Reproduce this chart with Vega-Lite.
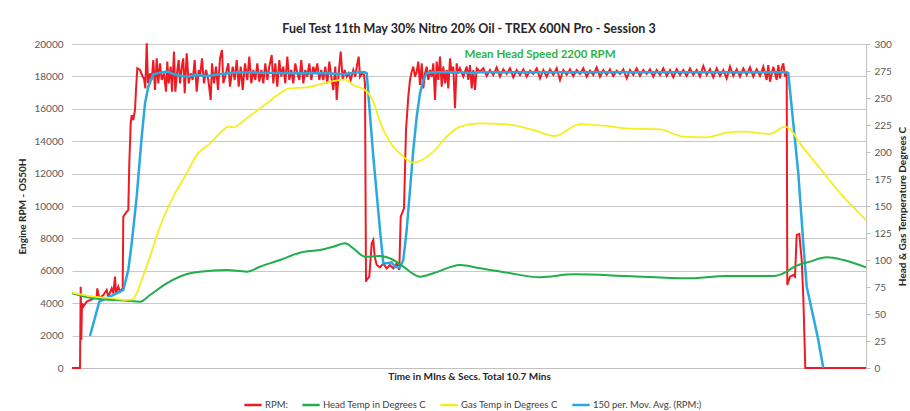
{
"$schema":"https://vega.github.io/schema/vega-lite/v6.json",
"width":794,"height":324,
"autosize":{"type":"none"},
"padding":{"left":72,"top":44,"right":44,"bottom":43},
"background":"white",
"config":{"font":"Lato","view":{"stroke":null}},
"title":{"text":"Fuel Test 11th May 30% Nitro 20% Oil - TREX 600N Pro - Session 3","fontSize":12.5,"fontWeight":"bold","color":"#262626","anchor":"middle","offset":4},
"datasets":{
"rpm":[{"s":0,"v":0},{"s":8,"v":0},{"s":8.7,"v":5021},{"s":9.3,"v":1728},{"s":10,"v":3992},{"s":11.3,"v":3786},{"s":14.7,"v":4095},{"s":19.7,"v":4239},{"s":24.7,"v":4403},{"s":25.3,"v":4918},{"s":27.3,"v":4300},{"s":31.3,"v":4506},{"s":34.7,"v":4815},{"s":36.3,"v":4403},{"s":39.7,"v":4918},{"s":41.3,"v":4610},{"s":43,"v":5638},{"s":44,"v":4610},{"s":46.3,"v":5021},{"s":48,"v":4710},{"s":50.7,"v":4918},{"s":51.3,"v":9342},{"s":54.7,"v":9651},{"s":56.3,"v":9754},{"s":57.3,"v":12634},{"s":58.7,"v":15103},{"s":59.7,"v":15617},{"s":61.3,"v":15309},{"s":63,"v":15926},{"s":64,"v":17161},{"s":65.3,"v":18498},{"s":68,"v":18395},{"s":70.7,"v":17984},{"s":72,"v":17881},{"s":73.3,"v":17264},{"s":74.7,"v":20041},{"s":76,"v":17572},{"s":78,"v":18190},{"s":79.7,"v":17778},{"s":81.3,"v":19012},{"s":83,"v":17161},{"s":84.7,"v":19115},{"s":86.3,"v":17572},{"s":88,"v":18807},{"s":89.7,"v":17778},{"s":92,"v":18190},{"s":94,"v":17058},{"s":95.3,"v":18910},{"s":96.7,"v":17572},{"s":98.7,"v":18601},{"s":100,"v":17058},{"s":102,"v":19527},{"s":103.3,"v":17058},{"s":105.3,"v":18395},{"s":106.7,"v":19012},{"s":108,"v":17572},{"s":110,"v":18704},{"s":111.3,"v":19115},{"s":112.7,"v":16955},{"s":114.7,"v":19424},{"s":116.7,"v":17572},{"s":118.7,"v":18190},{"s":120.7,"v":17778},{"s":122.7,"v":19012},{"s":124.7,"v":17058},{"s":126.7,"v":18395},{"s":128,"v":17984},{"s":130,"v":19115},{"s":132,"v":17572},{"s":134,"v":18395},{"s":136.3,"v":17778},{"s":138.7,"v":16544},{"s":140,"v":18807},{"s":142,"v":17572},{"s":144,"v":18601},{"s":146,"v":17161},{"s":148,"v":19115},{"s":150,"v":19630},{"s":151.3,"v":17572},{"s":154,"v":18190},{"s":156.3,"v":18807},{"s":158,"v":17366},{"s":160.7,"v":18601},{"s":162.7,"v":17778},{"s":164.7,"v":19012},{"s":166.7,"v":17366},{"s":168.7,"v":18601},{"s":170.7,"v":17161},{"s":173,"v":18807},{"s":175.3,"v":17778},{"s":177.3,"v":19218},{"s":179.3,"v":17572},{"s":181.3,"v":18395},{"s":183.3,"v":17778},{"s":185.3,"v":18807},{"s":187.3,"v":17675},{"s":189.3,"v":18395},{"s":191.3,"v":17572},{"s":193.3,"v":18807},{"s":195.3,"v":17778},{"s":197.3,"v":18601},{"s":199.7,"v":19321},{"s":201.3,"v":17572},{"s":203.3,"v":18807},{"s":205.3,"v":17366},{"s":207.3,"v":19012},{"s":209.3,"v":17984},{"s":211.3,"v":18601},{"s":213.3,"v":17572},{"s":215.3,"v":19218},{"s":217.3,"v":17778},{"s":219.3,"v":18395},{"s":221.3,"v":17572},{"s":223.3,"v":18807},{"s":225.3,"v":18190},{"s":227.3,"v":17778},{"s":229.3,"v":19012},{"s":231.3,"v":17572},{"s":233.3,"v":18395},{"s":235.3,"v":17984},{"s":237.3,"v":18807},{"s":239.3,"v":17778},{"s":241.3,"v":18601},{"s":243.3,"v":18190},{"s":245.3,"v":18807},{"s":247.3,"v":17778},{"s":249.3,"v":18395},{"s":251.3,"v":17778},{"s":253.3,"v":18601},{"s":255.3,"v":17572},{"s":257.3,"v":18910},{"s":259.3,"v":17984},{"s":261.3,"v":17161},{"s":263.3,"v":18601},{"s":264.7,"v":16544},{"s":266.7,"v":18190},{"s":268.7,"v":19527},{"s":270.7,"v":17778},{"s":272.7,"v":18395},{"s":274.7,"v":17984},{"s":276.7,"v":18190},{"s":278.7,"v":17778},{"s":281.3,"v":18395},{"s":283.3,"v":17984},{"s":285.3,"v":18807},{"s":286.7,"v":19218},{"s":288,"v":17984},{"s":290,"v":18190},{"s":292,"v":18087},{"s":293,"v":17500},{"s":294,"v":5329},{"s":294.7,"v":5432},{"s":297.3,"v":5638},{"s":299.7,"v":7696},{"s":301.3,"v":7901},{"s":302.7,"v":6872},{"s":304.7,"v":6358},{"s":308,"v":6214},{"s":311.3,"v":6461},{"s":314.7,"v":6152},{"s":318,"v":6358},{"s":321.3,"v":6152},{"s":324.7,"v":6461},{"s":327.3,"v":6050},{"s":328.7,"v":9342},{"s":330.7,"v":9651},{"s":332,"v":9857},{"s":334,"v":14692},{"s":336.3,"v":16749},{"s":338,"v":17778},{"s":339.7,"v":18293},{"s":341.3,"v":18601},{"s":343,"v":17984},{"s":344.7,"v":18293},{"s":346.3,"v":18910},{"s":348,"v":17469},{"s":349.7,"v":18807},{"s":351.3,"v":17264},{"s":353,"v":18190},{"s":354.7,"v":18601},{"s":356.3,"v":17778},{"s":358,"v":18395},{"s":359.7,"v":17984},{"s":361.3,"v":18807},{"s":363,"v":16544},{"s":364.7,"v":18910},{"s":366.3,"v":17778},{"s":368,"v":19218},{"s":369.7,"v":17366},{"s":371.3,"v":18601},{"s":373,"v":17572},{"s":374.7,"v":18395},{"s":376.3,"v":17264},{"s":378,"v":19115},{"s":379.7,"v":18190},{"s":381.3,"v":18601},{"s":383,"v":16029},{"s":384.7,"v":18807},{"s":386.3,"v":18190},{"s":388,"v":18498},{"s":391.3,"v":17984},{"s":394.7,"v":18601},{"s":396.3,"v":17778},{"s":398,"v":18704},{"s":399.7,"v":17264},{"s":401.3,"v":18395},{"s":403,"v":17161},{"s":404.7,"v":18498},{"s":408,"v":18293},{"s":411.3,"v":18498},{"s":414.7,"v":18025},{"s":418,"v":18395},{"s":421.3,"v":18087},{"s":424.7,"v":18560},{"s":428,"v":17984},{"s":431.3,"v":18436},{"s":434.7,"v":18149},{"s":438,"v":18498},{"s":441.3,"v":17943},{"s":444.7,"v":18395},{"s":448,"v":18087},{"s":451.3,"v":18436},{"s":454.7,"v":17984},{"s":458,"v":18354},{"s":461.3,"v":18149},{"s":464.7,"v":18498},{"s":468,"v":17881},{"s":471.3,"v":18395},{"s":474.7,"v":17984},{"s":478,"v":18436},{"s":481.3,"v":18087},{"s":484.7,"v":18498},{"s":488,"v":17778},{"s":491.3,"v":18395},{"s":494.7,"v":18087},{"s":498,"v":18436},{"s":501.3,"v":18025},{"s":504.7,"v":18395},{"s":508,"v":18149},{"s":511.3,"v":18498},{"s":514.7,"v":17984},{"s":518,"v":18354},{"s":521.3,"v":18087},{"s":524.7,"v":18560},{"s":528,"v":17984},{"s":531.3,"v":18395},{"s":534.7,"v":18087},{"s":538,"v":18436},{"s":541.3,"v":18025},{"s":544.7,"v":18354},{"s":548,"v":18149},{"s":551.3,"v":18436},{"s":554.7,"v":17881},{"s":558,"v":18395},{"s":561.3,"v":18087},{"s":564.7,"v":18498},{"s":568,"v":18025},{"s":571.3,"v":18395},{"s":574.7,"v":18149},{"s":578,"v":18436},{"s":581.3,"v":17984},{"s":584.7,"v":18395},{"s":588,"v":18087},{"s":591.3,"v":18498},{"s":594.7,"v":18025},{"s":598,"v":18395},{"s":601.3,"v":17943},{"s":604.7,"v":18436},{"s":608,"v":18087},{"s":611.3,"v":18395},{"s":614.7,"v":18025},{"s":618,"v":18498},{"s":621.3,"v":18087},{"s":624.7,"v":18395},{"s":628,"v":17984},{"s":631.3,"v":18643},{"s":634.7,"v":18087},{"s":638,"v":18436},{"s":641.3,"v":17943},{"s":644.7,"v":18498},{"s":648,"v":18025},{"s":651.3,"v":18395},{"s":654.7,"v":17881},{"s":658,"v":18601},{"s":661.3,"v":18025},{"s":664.7,"v":18436},{"s":668,"v":17984},{"s":671.3,"v":18498},{"s":674.7,"v":18087},{"s":678,"v":18560},{"s":681.3,"v":17984},{"s":684.7,"v":18436},{"s":688,"v":18025},{"s":691.3,"v":18601},{"s":694.7,"v":17778},{"s":696.3,"v":18704},{"s":698,"v":17675},{"s":701.3,"v":18601},{"s":704.7,"v":17778},{"s":706.3,"v":18704},{"s":708,"v":17881},{"s":709.7,"v":18498},{"s":711.3,"v":18807},{"s":713,"v":17984},{"s":714.7,"v":18293},{"s":715.3,"v":5124},{"s":718,"v":5638},{"s":721.3,"v":5741},{"s":723,"v":5638},{"s":724.7,"v":8210},{"s":727.3,"v":8272},{"s":729.7,"v":6667},{"s":731.3,"v":4403},{"s":733.3,"v":0},{"s":794,"v":0}],
"avg":[{"s":18,"v":1975},{"s":27.3,"v":4095},{"s":38,"v":4403},{"s":51.3,"v":4815},{"s":56.3,"v":6050},{"s":59.7,"v":7696},{"s":64.7,"v":10576},{"s":69.7,"v":14280},{"s":73,"v":16338},{"s":76.3,"v":17366},{"s":81.3,"v":18128},{"s":88,"v":18231},{"s":94.7,"v":18293},{"s":104.7,"v":18087},{"s":114.7,"v":17984},{"s":124.7,"v":18087},{"s":134.7,"v":18025},{"s":148,"v":18128},{"s":164.7,"v":18252},{"s":188,"v":18231},{"s":221.3,"v":18190},{"s":254.7,"v":18190},{"s":271.3,"v":18128},{"s":288,"v":18272},{"s":293,"v":18252},{"s":294.7,"v":18190},{"s":301.3,"v":13045},{"s":308,"v":8519},{"s":311.3,"v":6461},{"s":314.7,"v":6461},{"s":319.7,"v":6523},{"s":323,"v":6235},{"s":328,"v":6214},{"s":331.3,"v":6667},{"s":334.7,"v":8519},{"s":338,"v":10988},{"s":341.3,"v":13457},{"s":344.7,"v":15515},{"s":348,"v":16955},{"s":351.3,"v":17778},{"s":354.7,"v":18190},{"s":361.3,"v":18252},{"s":388,"v":18252},{"s":401.3,"v":18190},{"s":408,"v":18252},{"s":500,"v":18252},{"s":600,"v":18252},{"s":714.7,"v":18252},{"s":716.3,"v":18190},{"s":721.3,"v":15103},{"s":726.3,"v":12017},{"s":731.3,"v":7696},{"s":734.7,"v":5021},{"s":741.3,"v":3169},{"s":746.3,"v":1728},{"s":751.3,"v":0}],
"gas":[{"s":0,"v":69.8},{"s":21.3,"v":66},{"s":41.3,"v":64.5},{"s":54.7,"v":63},{"s":59.7,"v":63.3},{"s":64.7,"v":69.1},{"s":69.7,"v":81.5},{"s":78,"v":103.1},{"s":88,"v":130.9},{"s":101.3,"v":158.6},{"s":114.7,"v":180.2},{"s":124.7,"v":197.2},{"s":138,"v":208},{"s":151.3,"v":220.4},{"s":156,"v":223.5},{"s":161.3,"v":222.8},{"s":174.7,"v":231.2},{"s":194.7,"v":245},{"s":218,"v":259},{"s":234.7,"v":259.9},{"s":254.7,"v":264.2},{"s":273,"v":267.3},{"s":281.3,"v":262},{"s":293,"v":257.4},{"s":301.3,"v":246.6},{"s":308,"v":228.1},{"s":314.7,"v":214.2},{"s":331.3,"v":195.7},{"s":341.3,"v":190.1},{"s":361.3,"v":200.3},{"s":374.7,"v":214.2},{"s":388,"v":223.5},{"s":408,"v":226.5},{"s":434.7,"v":225.6},{"s":461.3,"v":220.4},{"s":483,"v":214.8},{"s":508,"v":225.9},{"s":534.7,"v":224.1},{"s":554.7,"v":221.9},{"s":588,"v":221},{"s":611.3,"v":214.2},{"s":634.7,"v":213.6},{"s":654.7,"v":217.9},{"s":671.3,"v":218.8},{"s":698,"v":216.7},{"s":713,"v":223.5},{"s":718,"v":221.3},{"s":728,"v":208},{"s":748,"v":184.9},{"s":771.3,"v":158.6},{"s":794,"v":137}],
"head":[{"s":0,"v":69.1},{"s":21.3,"v":64.5},{"s":54.7,"v":62.3},{"s":68,"v":61.4},{"s":78,"v":67.6},{"s":94.7,"v":78.4},{"s":118,"v":87.7},{"s":128,"v":89.2},{"s":154.7,"v":90.7},{"s":174.7,"v":89.2},{"s":188,"v":93.8},{"s":208,"v":100},{"s":228,"v":106.8},{"s":248,"v":109.3},{"s":261.3,"v":112.3},{"s":273,"v":115.4},{"s":281.3,"v":110.8},{"s":293,"v":103.1},{"s":298,"v":103.1},{"s":308,"v":103.7},{"s":321.3,"v":100},{"s":331.3,"v":93.8},{"s":348,"v":84.6},{"s":361.3,"v":87.7},{"s":388,"v":95.4},{"s":408,"v":92.3},{"s":434.7,"v":88.3},{"s":468,"v":84},{"s":501.3,"v":86.7},{"s":554.7,"v":85.2},{"s":614.7,"v":83},{"s":654.7,"v":85.2},{"s":701.3,"v":85.2},{"s":714.7,"v":89.2},{"s":721.3,"v":93.2},{"s":738,"v":98.5},{"s":754.7,"v":102.5},{"s":771.3,"v":100},{"s":794,"v":93.2}],
"note":[{"s":468,"v":19320,"label":"Mean Head Speed 2200 RPM"}]
},
"encoding":{"x":{"field":"s","type":"quantitative","scale":{"domain":[0,794],"nice":false,"zero":false},"axis":{"title":"Time in MIns & Secs. Total 10.7 Mins","labels":false,"ticks":false,"grid":false,"domain":true,"domainColor":"#c0c0c0","titleFontSize":10,"titleFontWeight":"bold","titleColor":"#262626","titlePadding":3}}},
"layer":[
{"encoding":{"y":{"field":"v","type":"quantitative","scale":{"domain":[0,20000],"nice":false},"axis":{"orient":"left","format":"d","values":[0,2000,4000,6000,8000,10000,12000,14000,16000,18000,20000],"grid":true,"gridColor":"#c8c8c8","domain":false,"ticks":false,"labelPadding":9,"labelFontSize":10,"labelColor":"#595959","title":"Engine RPM - OS50H","titleFontSize":10,"titleFontWeight":"bold","titleColor":"#262626","titlePadding":6}}},
"layer":[
{"data":{"name":"rpm"},"mark":{"type":"line","strokeWidth":2},"encoding":{"color":{"datum":"RPM:","type":"nominal","scale":{"domain":["RPM:","Head Temp in Degrees C","Gas Temp in Degrees C","150 per. Mov. Avg. (RPM:)"],"range":["#ED1C24","#1FAE4B","#F5EE1F","#29A9E0"]},"legend":{"orient":"none","legendX":171,"legendY":351,"direction":"horizontal","title":null,"symbolType":"stroke","symbolSize":300,"symbolStrokeWidth":2.5,"labelFontSize":9.5,"labelColor":"#404040","columnPadding":9,"labelOffset":2}}}},
{"data":{"name":"avg"},"mark":{"type":"line","strokeWidth":2.5},"encoding":{"color":{"datum":"150 per. Mov. Avg. (RPM:)","type":"nominal"}}},
{"data":{"name":"note"},"mark":{"type":"text","color":"#2DB34A","fontWeight":"bold","fontSize":11.5,"align":"center","baseline":"middle"},"encoding":{"text":{"field":"label"}}}
]},
{"encoding":{"y":{"field":"v","type":"quantitative","scale":{"domain":[0,300],"nice":false},"axis":{"orient":"right","values":[0,25,50,75,100,125,150,175,200,225,250,275,300],"grid":false,"domain":true,"domainColor":"#c0c0c0","ticks":true,"tickColor":"#c0c0c0","tickSize":4,"labelPadding":4,"labelFontSize":10,"labelColor":"#595959","title":"Head & Gas Temperature Degrees C","titleAngle":270,"titleBaseline":"top","titleFontSize":10,"titleFontWeight":"bold","titleColor":"#262626","titlePadding":6}}},
"layer":[
{"data":{"name":"head"},"mark":{"type":"line","strokeWidth":2,"interpolate":"monotone"},"encoding":{"color":{"datum":"Head Temp in Degrees C","type":"nominal"}}},
{"data":{"name":"gas"},"mark":{"type":"line","strokeWidth":1.8,"interpolate":"monotone"},"encoding":{"color":{"datum":"Gas Temp in Degrees C","type":"nominal"}}}
]}
],
"resolve":{"scale":{"y":"independent"}}
}
